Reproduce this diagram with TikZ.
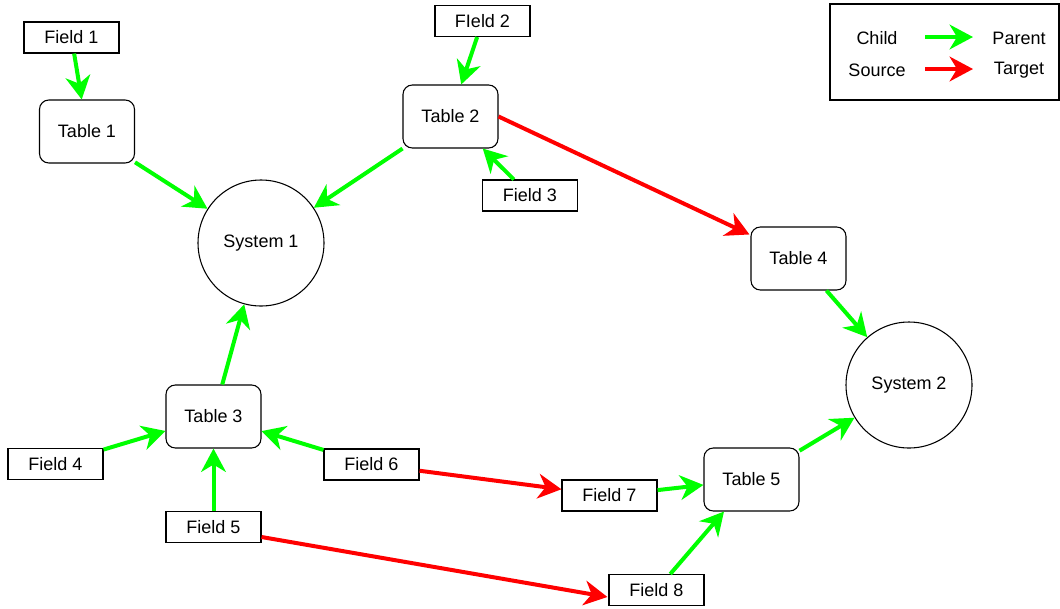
\documentclass[tikz,border=0pt]{standalone}
\usepackage{fontspec}
\setmainfont{Liberation Sans}
\usetikzlibrary{arrows.meta,calc}
\begin{document}
\begin{tikzpicture}[x=0.75pt,y=-0.75pt,
  every node/.style={font=\fontsize{13.5pt}{16pt}\selectfont, inner sep=0pt},
  field/.style={draw, line width=0.8pt, minimum width=71.25pt, minimum height=23.25pt},
  tbl/.style={draw, line width=0.8pt, rounded corners=7pt, minimum width=71.25pt, minimum height=47.25pt},
  sys/.style={draw, line width=0.8pt, circle, minimum size=94.5pt},
  link/.style={line width=3pt, -{Stealth[length=17.5pt,width=18.5pt,inset=5.5pt]}},
  gr/.style={link, draw={rgb,255:red,0;green,255;blue,0}},
  rd/.style={link, draw={rgb,255:red,255;green,0;blue,0}}
]
\useasboundingbox (0,0) rectangle (1060,608);

\node[field] (f1) at (71.5,37.5) {Field 1};
\node[tbl] (t1) at (87,131.5) {Table 1};
\node[field] (f2) at (482.5,21) {FIeld 2};
\node[tbl] (t2) at (450.5,116.5) {Table 2};
\node[field] (f3) at (530,195.5) {Field 3};
\node[sys] (s1) at (261,243) {System 1};
\node[tbl] (t4) at (798.5,258.5) {Table 4};
\node[sys] (s2) at (909,385) {System 2};
\node[tbl] (t3) at (213.5,416.5) {Table 3};
\node[field] (f4) at (55.5,464) {Field 4};
\node[field] (f6) at (371.5,464.5) {Field 6};
\node[field] (f5) at (213.5,527) {Field 5};
\node[field] (f7) at (609.5,495.5) {Field 7};
\node[tbl] (t5) at (751.5,479.5) {Table 5};
\node[field] (f8) at (656.5,590) {Field 8};

\draw[gr] (f1) -- (t1);
\draw[gr] (t1) -- (s1);
\draw[gr] (f2) -- (t2);
\draw[gr] (f3) -- (t2);
\draw[gr] (t2) -- (s1);
\draw[rd] (t2.east) -- ($(t4.north west)+(-1,8)$);
\draw[gr] (t4) -- (s2);
\draw[gr] (t3) -- (s1);
\draw[gr] (f4) -- (t3);
\draw[gr] (f6) -- (t3);
\draw[gr] (f5) -- (t3);
\draw[rd] (f6) -- (f7);
\draw[rd] ($(f5.east)+(0,10)$) -- ($(f8.west)+(-1,7)$);
\draw[gr] (f7) -- (t5);
\draw[gr] (f8) -- (t5);
\draw[gr] (t5) -- (s2);

% legend
\node[draw, line width=0.8pt, minimum width=171.75pt, minimum height=72pt] (leg) at (944.5,52) {};
\node (lc) at (877,38) {Child};
\node (lp) at (1019,38) {Parent};
\node (ls) at (877,70) {Source};
\node (lt) at (1019,70) {Target};
\coordinate (ga) at (925,37);
\coordinate (gb) at (973,37);
\coordinate (ra) at (925,69);
\coordinate (rb) at (973,69);
\draw[gr] (ga) -- (gb);
\draw[rd] (ra) -- (rb);
\end{tikzpicture}
\end{document}
